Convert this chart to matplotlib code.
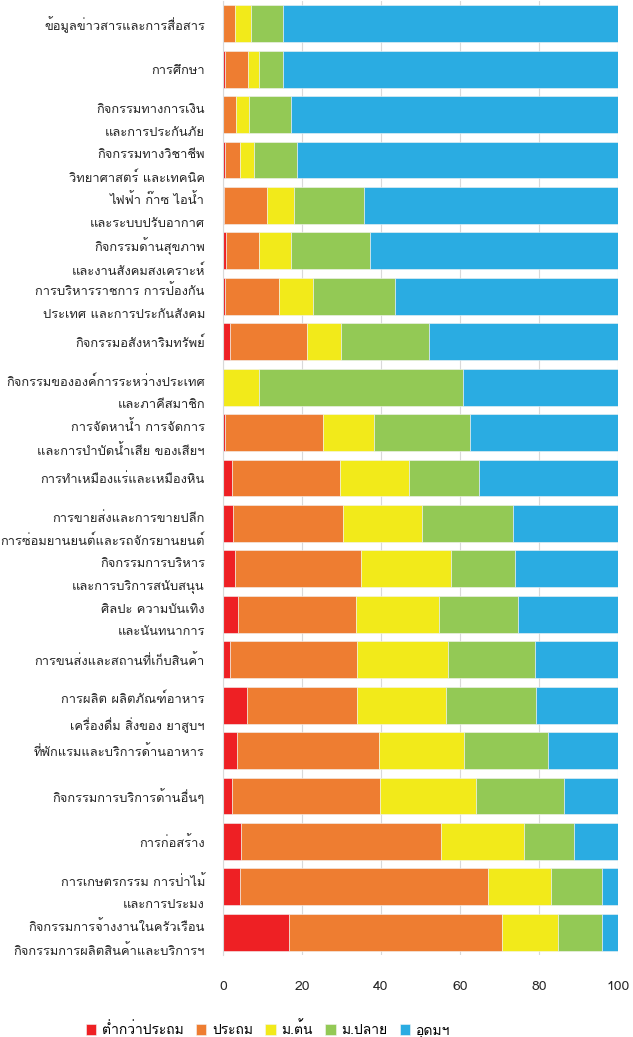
import numpy as np
import matplotlib
matplotlib.use('Agg')
import matplotlib.pyplot as plt
from matplotlib import font_manager
from matplotlib.ft2font import FT2Font

# categories, top to bottom
categories = [
    'ข้อมูลข่าวสารและการสื่อสาร',
    'การศึกษา',
    'กิจกรรมทางการเงิน\nและการประกันภัย',
    'กิจกรรมทางวิชาชีพ\nวิทยาศาสตร์ และเทคนิค',
    'ไฟฟ้า ก๊าซ ไอน้ำ\nและระบบปรับอากาศ',
    'กิจกรรมด้านสุขภาพ\nและงานสังคมสงเคราะห์',
    'การบริหารราชการ การป้องกัน\nประเทศ และการประกันสังคม',
    'กิจกรรมอสังหาริมทรัพย์',
    'กิจกรรมขององค์การระหว่างประเทศ\nและภาคีสมาชิก',
    'การจัดหาน้ำ การจัดการ\nและการบำบัดน้ำเสีย ของเสียฯ',
    'การทำเหมืองแร่และเหมืองหิน',
    'การขายส่งและการขายปลีก\nการซ่อมยานยนต์และรถจักรยานยนต์',
    'กิจกรรมการบริหาร\nและการบริการสนับสนุน',
    'ศิลปะ ความบันเทิง\nและนันทนาการ',
    'การขนส่งและสถานที่เก็บสินค้า',
    'การผลิต ผลิตภัณฑ์อาหาร\nเครื่องดื่ม สิ่งของ ยาสูบฯ',
    'ที่พักแรมและบริการด้านอาหาร',
    'กิจกรรมการบริการด้านอื่นๆ',
    'การก่อสร้าง',
    'การเกษตรกรรม การป่าไม้\nและการประมง',
    'กิจกรรมการจ้างงานในครัวเรือน\nกิจกรรมการผลิตสินค้าและบริการฯ',
]

series_names = ['ต่ำกว่าประถม', 'ประถม', 'ม.ต้น', 'ม.ปลาย', 'อุดมฯ']

below_primary = [0.0, 0.6, 0.0, 0.6, 0.2, 0.8, 0.6, 1.7, 0.0, 0.6, 2.4,
                 2.5, 3.0, 3.9, 1.7, 6.2, 3.6, 2.4, 4.6, 4.4, 16.8]
primary = [3.0, 5.7, 3.2, 3.8, 11.0, 8.2, 13.6, 19.5, 0.0, 24.6, 27.2,
           28.0, 32.0, 29.7, 32.1, 27.6, 35.8, 37.4, 50.5, 62.7, 53.9]
lower_sec = [4.2, 2.9, 3.4, 3.5, 6.9, 8.2, 8.6, 8.6, 9.2, 13.1, 17.4,
             19.8, 22.8, 21.1, 23.1, 22.7, 21.7, 24.3, 21.0, 16.0, 14.2]
upper_sec = [8.0, 6.0, 10.7, 10.9, 17.5, 20.0, 20.8, 22.4, 51.5, 24.2, 17.8,
             23.1, 16.1, 19.9, 22.1, 22.7, 21.1, 22.3, 12.8, 12.9, 11.1]
higher = [84.8, 84.8, 82.7, 81.2, 64.4, 62.8, 56.4, 47.8, 39.3, 37.5, 35.2,
          26.6, 26.1, 25.4, 21.0, 20.8, 17.8, 13.6, 11.1, 4.0, 4.0]

colors = ['#EE2024', '#EE7D31', '#F2EA1A', '#93C955', '#2AACE2']


def thai_font():
    # pick the first installed font that has Thai glyphs
    seen = set()
    for f in font_manager.fontManager.ttflist:
        if f.name in seen:
            continue
        seen.add(f.name)
        try:
            if 0x0E01 in FT2Font(f.fname).get_charmap():
                return f.name
        except Exception:
            pass
    return 'DejaVu Sans'


plt.rcParams['font.family'] = [thai_font(), 'DejaVu Sans']

fig = plt.figure(figsize=(6.33, 10.37), dpi=100)
ax = fig.add_axes([223 / 633, 82 / 1037, 395 / 633, 954 / 1037])

y = np.arange(len(categories))
left = np.zeros(len(categories))
for name, vals, c in zip(series_names,
                         [below_primary, primary, lower_sec, upper_sec, higher],
                         colors):
    vals = np.array(vals)
    ax.barh(y, vals, left=left, height=0.81, color=c, label=name,
            edgecolor='#f4f4f4', linewidth=0.4, zorder=2)
    left += vals

ax.set_ylim(len(categories) - 0.5, -0.5)
ax.set_xlim(0, 100)
ax.set_xticks([0, 20, 40, 60, 80, 100])
ax.set_yticks(y)
ax.set_yticklabels(categories, fontsize=9.3, color='#262626', linespacing=1.95)
ax.tick_params(axis='both', length=0)
ax.tick_params(axis='y', pad=13)
ax.tick_params(axis='x', pad=19, labelsize=10, labelcolor='#262626')
ax.grid(axis='x', color='#d9d9d9', linewidth=0.8, zorder=0)
ax.set_axisbelow(True)
for s in ['top', 'right', 'bottom']:
    ax.spines[s].set_visible(False)
ax.spines['left'].set_color('#d9d9d9')

fig.legend(loc='center', bbox_to_anchor=(268 / 633, 1 - 1030 / 1037), ncol=5,
           frameon=False, fontsize=10, handlelength=0.75, handleheight=0.75,
           handletextpad=0.4, columnspacing=0.9)

fig.savefig('out.png', dpi=100)
